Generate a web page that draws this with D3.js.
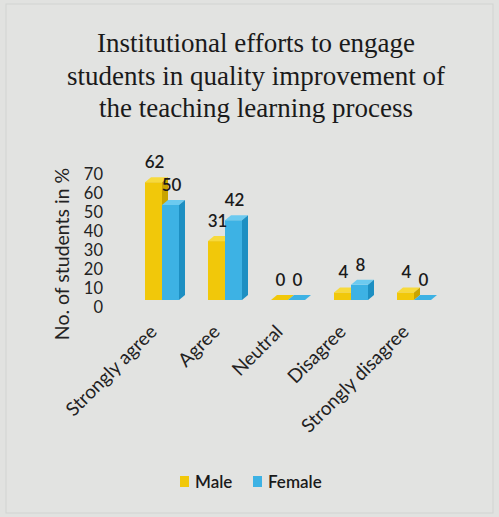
<!DOCTYPE html>
<html><head><meta charset="utf-8">
<script src="https://cdn.jsdelivr.net/npm/d3@7"></script>
<style>body{margin:0;background:#e1e2e0;}svg{display:block;}</style>
</head><body>
<script>
const categories = ["Strongly agree","Agree","Neutral","Disagree","Strongly disagree"];
const male = [62,31,0,4,4];
const female = [50,42,0,8,0];
const yTicks = [0,10,20,30,40,50,60,70];
const seriesNames = ["Male","Female"];
const titleLines = ["Institutional efforts to engage","students in quality improvement of","the teaching learning process"];

const W=499,H=517;
const svg=d3.select("body").append("svg").attr("width",W).attr("height",H);
svg.append("rect").attr("width",W).attr("height",H).attr("fill","#e1e2e0");
svg.append("rect").attr("x",6).attr("y",4).attr("width",W-12).attr("height",H-8)
  .attr("fill","#e2e3e1").attr("stroke","#d2d3d1").attr("stroke-width",1);

const sans="Lato, 'Open Sans', sans-serif";
svg.append("g").selectAll("text").data(titleLines).join("text")
  .attr("x",256).attr("y",(d,i)=>52+i*32.5).attr("text-anchor","middle")
  .attr("font-family","'Liberation Serif', 'Times New Roman', serif").attr("font-size",27)
  .attr("fill","#1a1a1a").text(d=>d);

const x=d3.scaleBand().domain(categories).range([130.5,445.5]);
const y=d3.scaleLinear().domain([0,70]).range([300,167]);

// y axis labels
const ax=svg.append("g").attr("transform","translate(103,7)")
  .call(d3.axisLeft(y).tickValues(yTicks).tickSize(0).tickPadding(0));
ax.select(".domain").remove();
ax.selectAll("text").attr("font-family",sans).attr("font-size",16.5).attr("fill","#222");

svg.append("text").attr("transform","translate(69,254) rotate(-90)").attr("text-anchor","middle")
  .attr("font-family",sans).attr("font-size",19.5).attr("fill","#222").text("No. of students in %");

const bw=17,dx=6,dy=5;
const cols={Male:{front:"#f1c80a",top:"#f7da3c",side:"#c9a400"},Female:{front:"#3db2e4",top:"#6ccaf0",side:"#1d8fc2"}};
const data=[];
categories.forEach((c,i)=>{
  data.push({cat:c,s:"Male",v:male[i],x0:x(c)+x.bandwidth()/2-bw});
  data.push({cat:c,s:"Female",v:female[i],x0:x(c)+x.bandwidth()/2});
});
const base=y(0);
const g=svg.append("g");
data.forEach(d=>{
  const yt=y(d.v), x0=d.x0, c=cols[d.s];
  if(d.v>0) g.append("rect").attr("x",x0).attr("y",yt).attr("width",bw).attr("height",base-yt).attr("fill",c.front);
  g.append("path").attr("d",`M${x0},${yt}L${x0+dx},${yt-dy}L${x0+bw+dx},${yt-dy}L${x0+bw},${yt}Z`).attr("fill",d.v>0?c.top:c.front);
  g.append("path").attr("d",`M${x0+bw},${yt}L${x0+bw+dx},${yt-dy}L${x0+bw+dx},${base-dy}L${x0+bw},${base}Z`).attr("fill",c.side);
});
svg.append("g").selectAll("text").data(data).join("text")
  .attr("x",d=>d.x0+bw/2+1).attr("y",d=>y(d.v)-20).attr("dy","0.35em").attr("text-anchor","middle")
  .attr("font-family",sans).attr("font-size",17).attr("font-weight",600).attr("fill","#1a1a1a").text(d=>d.v);

svg.append("g").selectAll("text").data(categories).join("text")
  .attr("transform",d=>`translate(${x(d)+x.bandwidth()/2-4},333) rotate(-45)`)
  .attr("text-anchor","end").attr("font-family",sans).attr("font-size",19).attr("fill","#222").text(d=>d);

const leg=svg.append("g");
const lx=[180,253];
seriesNames.forEach((s,i)=>{
  leg.append("rect").attr("x",lx[i]).attr("y",476).attr("width",9).attr("height",11).attr("fill",cols[s].front);
  leg.append("text").attr("x",lx[i]+15).attr("y",488).attr("font-family",sans).attr("font-size",17)
    .attr("font-weight",600).attr("fill","#1a1a1a").text(s);
});
</script>
</body></html>
